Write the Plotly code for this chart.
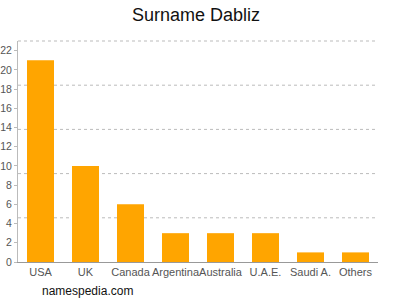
import plotly.graph_objects as go

categories = ["USA", "UK", "Canada", "Argentina", "Australia", "U.A.E.", "Saudi A.", "Others"]
values = [21, 10, 6, 3, 3, 3, 1, 1]
y_ticks = list(range(0, 23, 2))
title_text = "Surname Dabliz"
source_text = "namespedia.com"

fig = go.Figure(go.Bar(x=categories, y=values, marker_color="#FFA500", marker_line_width=0))

shapes = []
for f in [0.2, 0.4, 0.6, 0.8, 1.0]:
    shapes.append(dict(type="line", xref="paper", yref="paper", x0=0, x1=1, y0=f, y1=f,
                       line=dict(color="#BBBBBB", width=1, dash="3px,3px"), layer="below"))

fig.update_layout(
    width=400, height=300,
    margin=dict(l=18, r=22, t=41, b=38),
    paper_bgcolor="white", plot_bgcolor="white",
    bargap=0.4,
    font=dict(family="Liberation Sans, Arial, sans-serif", color="#555555", size=11),
    title=dict(text=title_text, x=0.49, xanchor="center", y=0.95, yanchor="middle",
               font=dict(size=18, color="#111111")),
    xaxis=dict(showline=True, linecolor="#999999", linewidth=1, ticks="",
               showgrid=False, tickangle=0, automargin=False,
               tickfont=dict(size=11, color="#555555")),
    yaxis=dict(range=[0, 23], tickvals=y_ticks, showline=True, linecolor="#BBBBBB", linewidth=1,
               ticks="outside", ticklen=3, tickcolor="#BBBBBB", showgrid=False, automargin=False,
               tickfont=dict(size=10.5, color="#555555"), zeroline=False),
    shapes=shapes,
    annotations=[dict(text=source_text, xref="paper", yref="paper", x=0, y=0,
                      xanchor="left", yanchor="middle", showarrow=False, xshift=22, yshift=-29,
                      font=dict(size=12, color="#111111"))],
)

fig.write_html("out.html")
